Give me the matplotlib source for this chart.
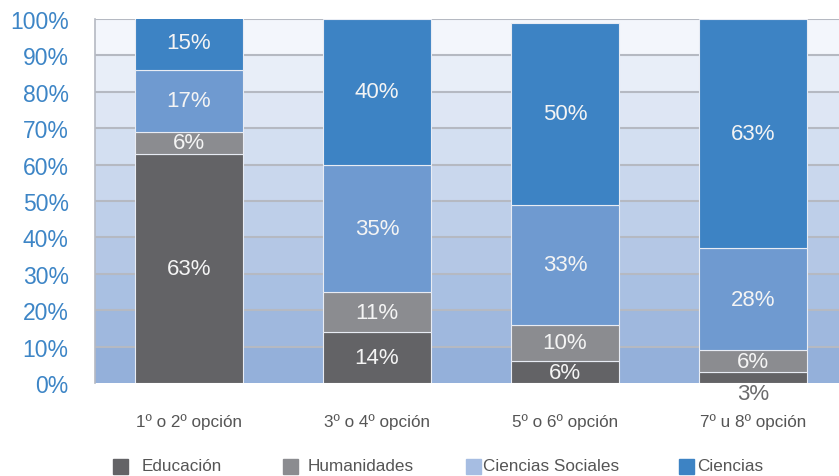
import matplotlib.pyplot as plt
import numpy as np
from matplotlib.patches import Rectangle

plt.rcParams['font.family'] = ['Liberation Sans', 'DejaVu Sans']

categories = ['1º o 2º opción', '3º o 4º opción', '5º o 6º opción', '7º u 8º opción']
series = ['Educación', 'Humanidades', 'Ciencias Sociales', 'Ciencias']
educacion = [63, 14, 6, 3]
humanidades = [6, 11, 10, 6]
sociales = [17, 35, 33, 28]
ciencias = [15, 40, 50, 63]

bar_colors = ['#636366', '#8b8c90', '#6f9ad0', '#3d83c4']
legend_colors = ['#636366', '#8b8c90', '#a6bde2', '#3d83c4']

fig = plt.figure(figsize=(8.39, 4.77), dpi=100)
ax = fig.add_axes([95 / 839, 1 - 384 / 477, 752 / 839, 364 / 477])

# banded background, light at the top and darker towards 0%
top = np.array([0xf3, 0xf6, 0xfc]) / 255
bottom = np.array([0x94, 0xb0, 0xda]) / 255
for i in range(10):
    t = i / 9
    ax.axhspan(i * 10, (i + 1) * 10, color=bottom * (1 - t) + top * t, lw=0, zorder=0)
for y in range(10, 101, 10):
    ax.axhline(y, color='#b5b9c2', lw=1.5, zorder=1)

x = np.arange(len(categories))
width = 0.575
base = np.zeros(len(categories))
for vals, col in zip([educacion, humanidades, sociales, ciencias], bar_colors):
    vals = np.array(vals, dtype=float)
    ax.bar(x, vals, width, bottom=base, color=col, edgecolor='#e8ecf4', lw=0.8, zorder=2)
    for xi, b, v in zip(x, base, vals):
        if v >= 5:
            ax.text(xi, b + v / 2, f'{int(v)}%', ha='center', va='center',
                    color='#f4f4f4', fontsize=16, zorder=3)
        else:
            ax.text(xi, b - 3, f'{int(v)}%', ha='center', va='center',
                    color='#6b6b6d', fontsize=16, zorder=3, clip_on=False)
    base += vals

ax.set_xlim(-0.5, 3.5)
ax.set_ylim(0, 100)
ax.set_yticks(range(0, 101, 10))
ax.set_yticklabels([f'{v}%' for v in range(0, 101, 10)], color='#3d85c6', fontsize=16.5)
ax.set_xticks(x)
ax.set_xticklabels(categories, color='#555555', fontsize=12.3)
ax.tick_params(axis='y', length=0, pad=19)
ax.tick_params(axis='x', length=0, pad=22)
for side in ['top', 'right', 'bottom']:
    ax.spines[side].set_visible(False)
ax.spines['left'].set_color('#b5b9c2')
ax.spines['left'].set_linewidth(1.2)

# legend row
legend_x = [113, 283, 466, 679]
text_x = [142, 308, 483, 697]
for lx, tx, name, col in zip(legend_x, text_x, series, legend_colors):
    fig.patches.append(Rectangle((lx / 839, 1 - 475 / 477), 15 / 839, 15 / 477,
                                 transform=fig.transFigure, color=col, figure=fig))
    fig.text(tx / 839, 1 - 467 / 477, name, color='#555555', fontsize=12.3,
             ha='left', va='center')

fig.savefig('out.png', dpi=100)
